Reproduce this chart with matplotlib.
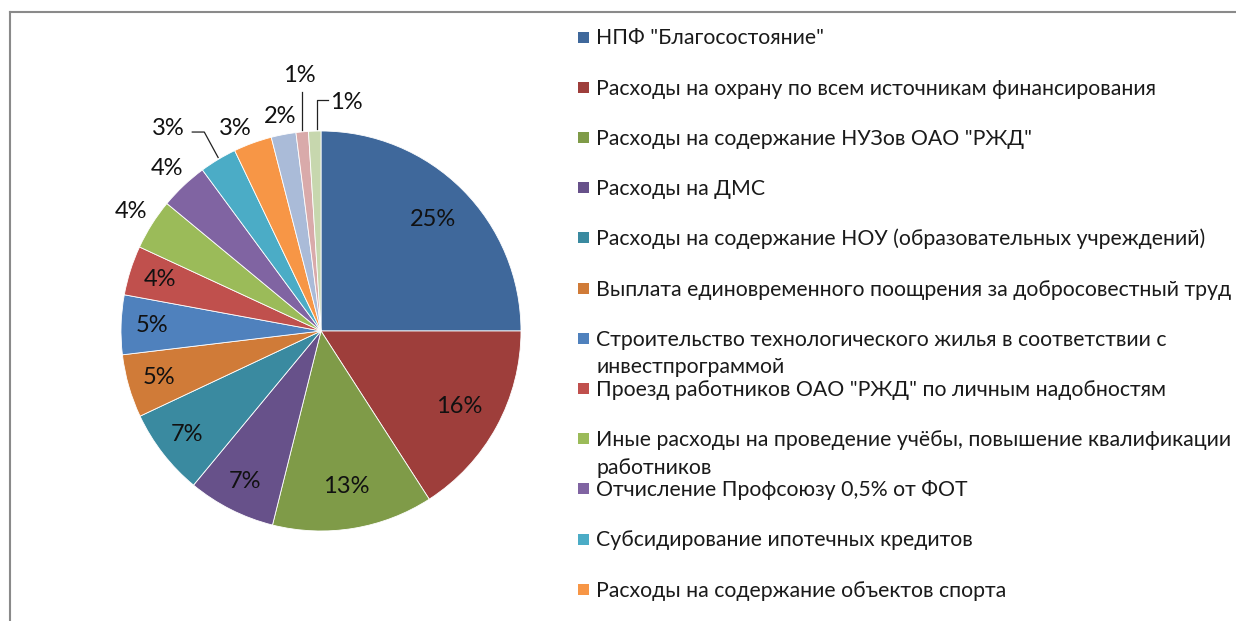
import matplotlib
matplotlib.use("Agg")
import matplotlib.pyplot as plt
import numpy as np
from matplotlib.lines import Line2D

plt.rcParams['font.family'] = ['Lato', 'DejaVu Sans']

# shares of expenses, %
values = [25.0, 15.9, 13.0, 7.1, 7.0, 5.1, 4.8, 4.0, 4.1, 3.9, 3.0, 3.1, 2.0, 1.0, 1.0]

# only the first 12 names are visible in the legend
categories = [
    'НПФ "Благосостояние"',
    'Расходы на охрану по всем источникам финансирования',
    'Расходы на содержание НУЗов ОАО "РЖД"',
    'Расходы на ДМС',
    'Расходы на содержание НОУ (образовательных учреждений)',
    'Выплата единовременного поощрения за добросовестный труд',
    'Строительство технологического жилья в соответствии с\nинвестпрограммой',
    'Проезд работников ОАО "РЖД" по личным надобностям',
    'Иные расходы на проведение учёбы, повышение квалификации\nработников',
    'Отчисление Профсоюзу 0,5% от ФОТ',
    'Субсидирование ипотечных кредитов',
    'Расходы на содержание объектов спорта',
]

colors = ['#3F689B', '#9E3E3B', '#7F9B48', '#67518A', '#3A8AA0', '#D07B38',
          '#4F81BD', '#C0504D', '#9BBB59', '#8064A2', '#4BACC6', '#F79646',
          '#AABBD8', '#D9AAAA', '#C7D7AE']

W, H = 1236, 621
fig = plt.figure(figsize=(W / 100, H / 100), dpi=100)

# pie: centre at (321, 331) px, radius 200 px
cx, cy, R = 321, 331, 200
half = 1.4 * R
ax = fig.add_axes([(cx - half) / W, (H - cy - half) / H, 2 * half / W, 2 * half / H])
wedges, _ = ax.pie(values, colors=colors, startangle=90, counterclock=False,
                   radius=1.0, wedgeprops=dict(edgecolor='white', linewidth=0.6))
ax.set_xlim(-1.4, 1.4)
ax.set_ylim(-1.4, 1.4)
ax.set_aspect('equal')
ax.axis('off')

# label placement: (radius factor, angle shift in degrees)
label_pos = {8: (1.12, 0), 9: (1.12, 0), 10: (1.27, 6), 11: (1.10, 3),
             12: (1.09, 0), 13: (1.28, -0.5), 14: (1.15, -8)}

for i, w in enumerate(wedges):
    mid = 0.5 * (w.theta1 + w.theta2)
    r, shift = label_pos.get(i, (0.79 if i < 3 else 0.845, 0))
    a = np.deg2rad(mid + shift)
    tx, ty = r * np.cos(a), r * np.sin(a)
    ax.text(tx, ty, '%.0f%%' % values[i], ha='center', va='center',
            fontsize=17, color='#111111')
    am = np.deg2rad(mid)
    ex, ey = np.cos(am), np.sin(am)
    if i == 10:
        ax.plot([tx + 0.12, tx + 0.18, ex], [ty - 0.02, ty - 0.02, ey + 0.01],
                color='#222222', lw=0.9)
    elif i == 13:
        ax.plot([ex, ex], [ey + 0.01, ty - 0.08], color='#222222', lw=0.9)
    elif i == 14:
        ax.plot([tx - 0.09, ex + 0.01, ex + 0.01], [ty + 0.01, ty + 0.01, ey + 0.01],
                color='#222222', lw=0.9)

# legend drawn by hand: fixed 50 px slots, wrapped text overflows below
y0, step, line_h = 37, 50.2, 27.5
for i, name in enumerate(categories):
    yc = y0 + i * step
    fig.patches.append(plt.Rectangle((578 / W, 1 - (yc + 5.5) / H), 11 / W, 11 / H,
                                     transform=fig.transFigure, facecolor=colors[i],
                                     edgecolor='none'))
    for k, line in enumerate(name.split('\n')):
        fig.text(596 / W, 1 - (yc + 7.5 + k * line_h) / H, line, ha='left',
                 va='baseline', fontsize=15.3, color='#1a1a1a')

# chart area frame (only top and left edges visible)
fig.add_artist(Line2D([10 / W, 1], [1 - 12 / H, 1 - 12 / H], transform=fig.transFigure,
                      color='#8a8a8a', lw=1.5))
fig.add_artist(Line2D([10 / W, 10 / W], [0, 1 - 12 / H], transform=fig.transFigure,
                      color='#8a8a8a', lw=1.5))

fig.savefig('out.png', dpi=100, facecolor='white')
